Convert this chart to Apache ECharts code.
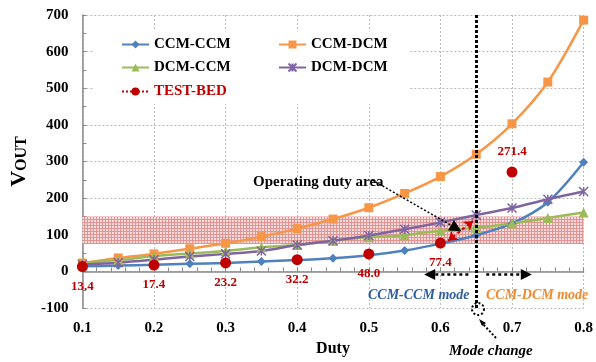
<!DOCTYPE html>
<html>
<head>
<meta charset="utf-8">
<script src="https://cdn.jsdelivr.net/npm/echarts@6/dist/echarts.min.js"></script>
<style>html,body{margin:0;padding:0;background:#fff;}#c{width:596px;height:362px;}</style>
</head>
<body>
<div id="c"></div>
<script>
var duty = [0.1,0.15,0.2,0.25,0.3,0.35,0.4,0.45,0.5,0.55,0.6,0.65,0.7,0.75,0.8];
var ccmCcm = [14,16,18,21,23,27,31,36,44,57,76,99,131,189,298];
var ccmDcm = [23,37,48,62,77,95,117,143,174,213,259,320,403,517,686];
var dcmCcm = [23,31,42,49,56,66,72,84,94,99,111,119,131,146,161];
var dcmDcm = [19,24,32,41,48,56,72,84,98,115,134,154,173,197,218];
var testDuty = [0.1,0.2,0.3,0.4,0.5,0.6,0.7];
var testBed = [13.4,17.4,23.2,32.2,48.0,77.4,271.4];
var bandRange = [75,150];
var modeDuty = 0.65;

var FONT = '"Liberation Serif","Times New Roman",serif';
function pairs(xs, ys){ return xs.map(function(x,i){ return [x, ys[i]]; }); }

var pc = document.createElement('canvas');
pc.width = 3; pc.height = 3;
var g = pc.getContext('2d');
g.fillStyle = '#f7dede'; g.fillRect(0,0,3,3);
g.fillStyle = '#e49393'; g.fillRect(0,0,3,1); g.fillRect(0,0,1,3);

var chart = echarts.init(document.getElementById('c'), null, {renderer:'canvas'});
var legendBase = function(name, left, top){
  return {data:[name], left:left, top:top, padding:0, itemWidth:27, itemHeight:10,
    selectedMode:false, textStyle:{fontFamily:FONT, fontWeight:'bold', fontSize:15, color: name==='TEST-BED' ? '#c00000' : '#000'}};
};
var legTB = legendBase('TEST-BED', 121, 84);
legTB.data = [{name:'TEST-BED', lineStyle:{type:'dotted', width:2, color:'#c00000', opacity:1}}];

var option = {
  animation:false,
  grid:{left:67, right:8, top:15, bottom:49},
  legend:[legendBase('CCM-CCM',121,37), legendBase('CCM-DCM',278,37), legendBase('DCM-CCM',121,60), legendBase('DCM-DCM',278,60), legTB],
  xAxis:{type:'value', min:0.1, max:0.8, interval:0.1,
    name:'Duty', nameLocation:'middle', nameGap:31,
    nameTextStyle:{fontFamily:FONT, fontWeight:'bold', fontSize:16, color:'#000'},
    axisLine:{lineStyle:{color:'#888', width:1.5}},
    axisTick:{inside:true, length:4, lineStyle:{color:'#888'}},
    minorTick:{show:true, splitNumber:5, length:4, lineStyle:{color:'#888'}},
    axisLabel:{margin:13, fontFamily:FONT, fontWeight:'bold', fontSize:15, color:'#000', formatter:function(v){return v.toFixed(1);}},
    splitLine:{show:true, lineStyle:{color:'#bbb', type:[2,2]}}
  },
  yAxis:{type:'value', min:-100, max:700, interval:100,
    name:'V{s|OUT}', nameLocation:'middle', nameGap:42,
    nameTextStyle:{fontFamily:FONT, fontWeight:'bold', fontSize:22, color:'#000', rich:{s:{fontFamily:FONT, fontWeight:'bold', fontSize:16, color:'#000', verticalAlign:'bottom'}}},
    axisLine:{show:true, lineStyle:{color:'#888', width:1.5}},
    axisTick:{show:true, inside:true, length:4, lineStyle:{color:'#888'}},
    minorTick:{show:true, splitNumber:2, length:4, lineStyle:{color:'#888'}},
    axisLabel:{margin:14, fontFamily:FONT, fontWeight:'bold', fontSize:15, color:'#000'},
    splitLine:{show:true, lineStyle:{color:'#bbb', type:[2,2]}}
  },
  graphic:[
    {type:'rect', shape:{x:93, y:30, width:316, height:74}, style:{fill:'#fff'}, z:1, silent:true},
    {type:'text', left:253, top:175, style:{text:'Operating duty area', font:'bold 15px '+FONT, fill:'#000'}, z:10},
    {type:'text', left:368, top:288, style:{text:'CCM-CCM mode', font:'italic bold 14px '+FONT, fill:'#2e5e9e'}, z:10},
    {type:'text', left:486, top:288, style:{text:'CCM-DCM mode', font:'italic bold 14px '+FONT, fill:'#f08a30'}, z:10},
    {type:'text', left:449, top:344, style:{text:'Mode change', font:'italic bold 15px '+FONT, fill:'#000'}, z:10},
    {type:'circle', shape:{cx:478, cy:309, r:6}, style:{fill:'none', stroke:'#000', lineWidth:2, lineDash:[2,2]}, z:10},
    {type:'line', shape:{x1:496, y1:338, x2:482, y2:323}, style:{stroke:'#000', lineWidth:2, lineDash:[2,2]}, z:10},
    {type:'polygon', shape:{points:[[479,319],[486,323],[482,326]]}, style:{fill:'#000'}, z:10}
  ],
  series:[
    {name:'CCM-CCM', type:'line', smooth:0.3, data:pairs(duty, ccmCcm), symbol:'diamond', symbolSize:9,
      itemStyle:{color:'#4f81bd'}, lineStyle:{width:2.5, color:'#4f81bd'}, z:3,
      markArea:{silent:true, itemStyle:{color:{image:pc, repeat:'repeat'}, opacity:1},
        data:[[{xAxis:0.1, yAxis:bandRange[0]},{xAxis:0.8, yAxis:bandRange[1]}]]},
      markLine:{silent:true, symbol:'none', label:{show:false}, animation:false,
        data:[
          [{coord:[modeDuty,-100], symbol:'none', lineStyle:{color:'#000', width:3, type:[3,2]}},{coord:[modeDuty,700], symbol:'none'}],
          [{coord:[0.639,-8], symbol:'none', lineStyle:{color:'#000', width:2.5, type:[3,3]}},{coord:[0.585,-8], symbol:'triangle', symbolSize:[11,11], symbolRotate:90}],
          [{coord:[0.664,-8], symbol:'none', lineStyle:{color:'#000', width:2.5, type:[3,3]}},{coord:[0.72,-8], symbol:'triangle', symbolSize:[11,11], symbolRotate:-90}],
          [{coord:[0.5046,250], symbol:'none', lineStyle:{color:'#000', width:1.5, type:[2,2]}},{coord:[0.622,118], symbol:'triangle', symbolSize:[12,12]}],
          [{coord:[0.6108,84], symbol:'arrow', symbolSize:[9,9], lineStyle:{color:'#d00000', width:2, type:[3,3]}},{coord:[0.6457,138], symbol:'arrow', symbolSize:[9,9]}]
        ]}
    },
    {name:'CCM-DCM', type:'line', smooth:0.3, data:pairs(duty, ccmDcm), symbol:'rect', symbolSize:9,
      itemStyle:{color:'#f79646'}, lineStyle:{width:2.5, color:'#f79646'}, z:3},
    {name:'DCM-CCM', type:'line', smooth:0.3, data:pairs(duty, dcmCcm), symbol:'triangle', symbolSize:10,
      itemStyle:{color:'#9bbb59'}, lineStyle:{width:2.5, color:'#9bbb59'}, z:3},
    {name:'DCM-DCM', type:'line', smooth:0.3, data:pairs(duty, dcmDcm), symbol:'path://M0,0L10,10M10,0L0,10M5,0L5,10', symbolSize:9,
      itemStyle:{color:'#8064a2', borderColor:'#8064a2', borderWidth:1.5}, lineStyle:{width:2.5, color:'#8064a2'}, z:3},
    {name:'TEST-BED', type:'line', data:pairs(testDuty, testBed), symbol:'circle', symbolSize:11,
      itemStyle:{color:'#c00000'}, lineStyle:{opacity:0, color:'#c00000'}, z:5,
      label:{show:true, position:'bottom', distance:8, fontFamily:FONT, fontWeight:'bold', fontSize:13, color:'#c00000',
        formatter:function(p){ return p.value[1].toFixed(1); }},
      emphasis:{disabled:true}
    }
  ]
};
option.series[4].data[6] = {value: option.series[4].data[6], label:{position:'top', distance:8}};
chart.setOption(option);
</script>
</body>
</html>
